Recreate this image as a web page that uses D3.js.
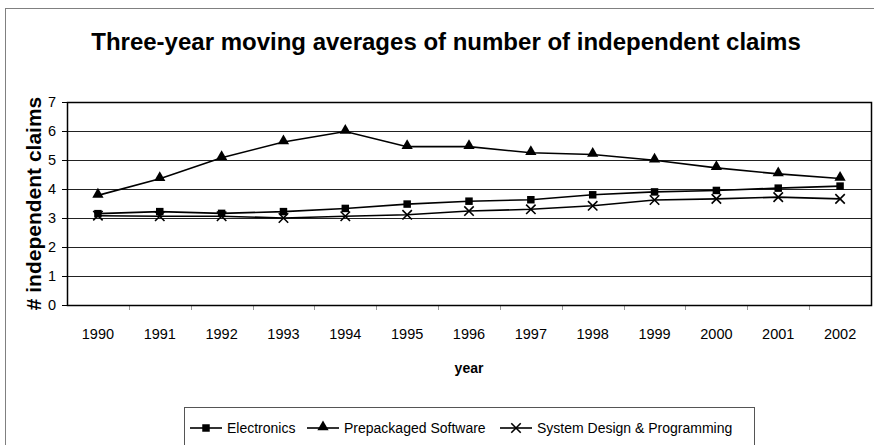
<!DOCTYPE html>
<html>
  <head>
    <meta charset="utf-8">
    <title>Independent claims</title>
    <style media="screen">
    body{margin: 0; background: #fff}
    text {font-family: Arial, "Liberation Sans", sans-serif}
    </style>
  </head>
  <body>
    <script src="https://d3js.org/d3.v7.min.js"></script>
    <script type="text/javascript">
      // data
      var years = ['1990','1991','1992','1993','1994','1995','1996','1997','1998','1999','2000','2001','2002']
      var electronics = [3.15, 3.22, 3.16, 3.22, 3.33, 3.48, 3.58, 3.63, 3.80, 3.90, 3.95, 4.03, 4.10]
      var software = [3.78, 4.35, 5.08, 5.62, 5.98, 5.46, 5.46, 5.25, 5.19, 4.99, 4.73, 4.52, 4.36]
      var sysdesign = [3.08, 3.06, 3.06, 3.00, 3.06, 3.11, 3.24, 3.30, 3.42, 3.62, 3.66, 3.72, 3.66]
      var yTicks = [0, 1, 2, 3, 4, 5, 6, 7]

      var series = [
        {name: 'Electronics', values: electronics, sym: 'square'},
        {name: 'Prepackaged Software', values: software, sym: 'triangle'},
        {name: 'System Design & Programming', values: sysdesign, sym: 'cross'}
      ]

      var w = 874, h = 445
      var m = {left: 67, right: 3, top: 102, bottom: 140}

      var svg = d3.select('body').append('svg')
        .attr('width', w)
        .attr('height', h)

      // outer chart border
      svg.append('rect')
        .attr('x', 5.5).attr('y', 8.5)
        .attr('width', w + 10).attr('height', h + 10)
        .attr('fill', 'none').attr('stroke', '#808080')

      var x = d3.scaleBand().domain(years).range([m.left, w - m.right])
      var y = d3.scaleLinear().domain([0, 7]).range([h - m.bottom, m.top])

      // gridlines
      svg.append('g').selectAll('line')
        .data(yTicks.slice(1, -1))
        .enter().append('line')
          .attr('x1', m.left).attr('x2', w - m.right)
          .attr('y1', function(d){ return Math.round(y(d)) + .5 })
          .attr('y2', function(d){ return Math.round(y(d)) + .5 })
          .attr('stroke', '#222')

      // y axis
      var yAxis = svg.append('g')
        .attr('transform', 'translate(' + m.left + ',0)')
        .call(d3.axisLeft(y).tickValues(yTicks).tickFormat(d3.format('d')).tickSize(5).tickPadding(6))
      yAxis.select('.domain').remove()
      yAxis.selectAll('text').attr('font-size', 14.5).attr('fill', '#000')
        .style('font-family', 'Arial, "Liberation Sans", sans-serif')

      // x ticks at category boundaries
      svg.append('g').selectAll('line')
        .data(years.slice(1))
        .enter().append('line')
          .attr('x1', function(d){ return Math.round(x(d)) + .5 })
          .attr('x2', function(d){ return Math.round(x(d)) + .5 })
          .attr('y1', y(0)).attr('y2', y(0) + 5)
          .attr('stroke', '#999')

      svg.append('g').selectAll('text')
        .data(years)
        .enter().append('text')
          .attr('x', function(d){ return x(d) + x.bandwidth() / 2 })
          .attr('y', y(0) + 34)
          .attr('text-anchor', 'middle')
          .attr('font-size', 14.5)
          .text(function(d){ return d })

      // plot border
      svg.append('rect')
        .attr('x', m.left + .5).attr('y', m.top + .5)
        .attr('width', w - m.right - m.left).attr('height', y(0) - m.top)
        .attr('fill', 'none').attr('stroke', '#000').attr('stroke-width', 1.5)

      var cx = function(d, i){ return x(years[i]) + x.bandwidth() / 2 }
      var line = d3.line().x(cx).y(function(d){ return y(d) })

      var symbols = {
        square: d3.symbol().type(d3.symbolSquare).size(56),
        triangle: d3.symbol().type(d3.symbolTriangle).size(55),
        cross: d3.symbol().type(d3.symbolX).size(60)
      }

      function drawMark(g, sym){
        var p = g.append('path').attr('d', symbols[sym]())
        if(sym == 'cross') p.attr('fill', 'none').attr('stroke', '#000').attr('stroke-width', 1.6)
        else p.attr('fill', '#000')
        return p
      }

      series.forEach(function(s){
        svg.append('path')
          .attr('d', line(s.values))
          .attr('fill', 'none')
          .attr('stroke', '#000')
          .attr('stroke-width', 1.6)

        s.values.forEach(function(v, i){
          var g = svg.append('g')
            .attr('transform', 'translate(' + cx(v, i) + ',' + (y(v) + (s.sym == 'triangle' ? -1 : 0)) + ')')
          drawMark(g, s.sym)
        })
      })

      // titles
      svg.append('text')
        .attr('x', 446).attr('y', 50)
        .attr('text-anchor', 'middle')
        .attr('font-size', 24).attr('font-weight', 'bold')
        .text('Three-year moving averages of number of independent claims')

      svg.append('text')
        .attr('transform', 'translate(41,' + ((m.top + y(0)) / 2) + ') rotate(-90)')
        .attr('text-anchor', 'middle')
        .attr('font-size', 21).attr('font-weight', 'bold')
        .text('# independent claims')

      svg.append('text')
        .attr('x', 469).attr('y', 373)
        .attr('text-anchor', 'middle')
        .attr('font-size', 14).attr('font-weight', 'bold')
        .text('year')

      // legend
      var legend = svg.append('g')
      legend.append('rect')
        .attr('x', 184.5).attr('y', 407.5)
        .attr('width', 570).attr('height', 60)
        .attr('fill', '#fff').attr('stroke', '#555')

      var legX = [190, 307, 500]
      series.forEach(function(s, i){
        var g = legend.append('g').attr('transform', 'translate(' + legX[i] + ',428)')
        g.append('line').attr('x1', 0).attr('x2', 32).attr('stroke', '#000').attr('stroke-width', 1.6)
        drawMark(g.append('g').attr('transform', 'translate(16,' + (s.sym == 'triangle' ? -1 : 0) + ')'), s.sym)
        g.append('text')
          .attr('x', 37).attr('y', 5)
          .attr('font-size', 14)
          .text(s.name)
      })
    </script>
  </body>
</html>
